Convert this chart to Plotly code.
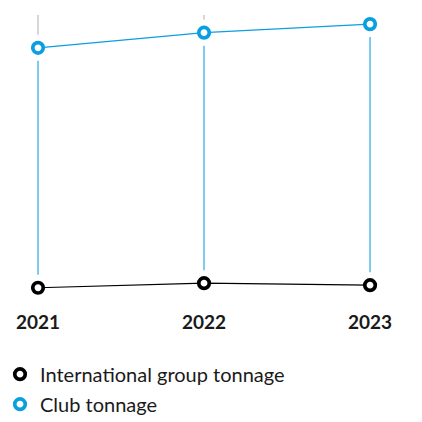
import plotly.graph_objects as go

years = [2021, 2022, 2023]
club_tonnage = [88.5, 93.8, 96.8]
intl_group_tonnage = [4.3, 5.9, 5.2]
tick_labels = ["2021", "2022", "2023"]
series_names = ["International group tonnage", "Club tonnage"]

Y_MAX = 100
PLOT_TOP_PX, PLOT_BOTTOM_PX = 15, 300
GAP_PX = 13
gap = GAP_PX * Y_MAX / (PLOT_BOTTOM_PX - PLOT_TOP_PX)  # gap around markers in data units

BLUE = "#0A9FE0"
BLUE_LIGHT = "#5DBFEB"
BLACK = "#000000"
GRID = "#D6D6D6"

fig = go.Figure()

# gray grid segments: from top of plot down to just above club points
gx, gy = [], []
for x, c in zip(years, club_tonnage):
    gx += [x, x, None]
    gy += [Y_MAX, c + gap, None]
fig.add_trace(go.Scatter(x=gx, y=gy, mode="lines", line=dict(color=GRID, width=2),
                         showlegend=False, hoverinfo="skip"))

# blue drop lines from club to international points (with gaps)
dx, dy = [], []
for x, c, i in zip(years, club_tonnage, intl_group_tonnage):
    dx += [x, x, None]
    dy += [c - gap, i + gap, None]
fig.add_trace(go.Scatter(x=dx, y=dy, mode="lines", line=dict(color=BLUE_LIGHT, width=1.6),
                         showlegend=False, hoverinfo="skip"))

# connecting lines
fig.add_trace(go.Scatter(x=years, y=club_tonnage, mode="lines", line=dict(color=BLUE, width=1.3),
                         showlegend=False, hoverinfo="skip"))
fig.add_trace(go.Scatter(x=years, y=intl_group_tonnage, mode="lines", line=dict(color=BLACK, width=1.2),
                         showlegend=False, hoverinfo="skip"))

# ring markers (with legend)
fig.add_trace(go.Scatter(x=years, y=intl_group_tonnage, mode="markers", name=series_names[0],
                         legendgroup="a",
                         marker=dict(symbol="circle", size=10.5, color="white",
                                     line=dict(color=BLACK, width=3.7))))
fig.add_trace(go.Scatter(x=years, y=club_tonnage, mode="markers", name=series_names[1],
                         legendgroup="b",
                         marker=dict(symbol="circle", size=10.5, color="white",
                                     line=dict(color=BLUE, width=3.7))))

fig.update_layout(
    width=422, height=422,
    margin=dict(l=0, r=0, t=PLOT_TOP_PX, b=422 - PLOT_BOTTOM_PX, autoexpand=False),
    paper_bgcolor="white", plot_bgcolor="white",
    xaxis=dict(range=[2020.771, 2023.313], tickvals=years, ticktext=tick_labels,
               showgrid=False, zeroline=False, showline=False, ticks="",
               tickfont=dict(family="Lato", size=19, color="#1a1a1a", weight="bold"),
               ticklabelstandoff=9),
    yaxis=dict(range=[0, Y_MAX], visible=False, showgrid=False, zeroline=False),
    showlegend=True,
    legend=dict(x=0, xanchor="left", y=-0.192, yanchor="top", orientation="v",
                traceorder="grouped", tracegroupgap=1,
                font=dict(family="Lato", size=20, color="#1a1a1a"),
                bgcolor="rgba(0,0,0,0)"),
)

fig.write_html("out.html", config={"displayModeBar": False},
               post_script="document.body.style.margin='0';document.body.style.overflow='hidden';")
